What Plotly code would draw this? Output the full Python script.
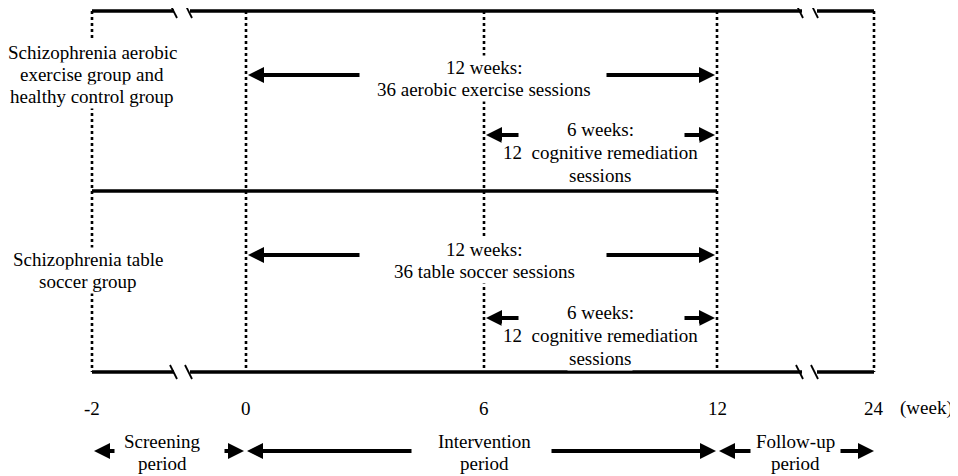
import plotly.graph_objects as go

# ---- data ----
weeks = [-2, 0, 6, 12, 24]
week_labels = ["-2", "0", "6", "12", "24"]
unit_label = "(week)"
groups = [["Schizophrenia aerobic", "exercise group and", "healthy control group"],
          ["Schizophrenia table", "soccer group"]]
long_blocks = [["12 weeks:", "36 aerobic exercise sessions"],
               ["12 weeks:", "36 table soccer sessions"]]
short_blocks = [["6 weeks:", "12  cognitive remediation", "sessions"],
                ["6 weeks:", "12  cognitive remediation", "sessions"]]
periods = [["Screening", "period"], ["Intervention", "period"], ["Follow-up", "period"]]

# display position of each week on the broken axis
wpos = dict(zip(weeks, [92, 246, 484, 717, 874]))
FONT = "Liberation Serif"
FS = 19
LH = 22

fig = go.Figure()
shapes = []
ann = []

def hline(x0, x1, y, w=3.6):
    shapes.append(dict(type="line", x0=x0, x1=x1, y0=y, y1=y, xref="x", yref="y",
                       line=dict(color="black", width=w)))

def seg(x0, y0, x1, y1, w=1.8):
    shapes.append(dict(type="line", x0=x0, x1=x1, y0=y0, y1=y1, xref="x", yref="y",
                       line=dict(color="black", width=w)))

def arrow(xh, xt, y, w=4):
    ann.append(dict(x=xh, y=y, ax=xt, ay=y, xref="x", yref="y", axref="x", ayref="y",
                    text="", showarrow=True, arrowhead=2, arrowsize=0.8, arrowwidth=w,
                    arrowcolor="black", standoff=0, startstandoff=0))

def text(x, y, t, bg=None):
    d = dict(x=x, y=y, xref="x", yref="y", text=t, showarrow=False,
             font=dict(family=FONT, size=FS, color="black"), align="center")
    if bg:
        d["bgcolor"] = bg
    ann.append(d)

def lines(x, y_first, ls, bg=None, lh=LH):
    for i, t in enumerate(ls):
        text(x, y_first + i * lh, t, bg)

x_m2, x0, x6, x12, x24 = (wpos[w] for w in weeks)
y_top, y_mid, y_bot = 11, 191, 372

# dotted verticals
for w in weeks:
    shapes.append(dict(type="line", x0=wpos[w], x1=wpos[w], y0=y_top, y1=y_bot, xref="x", yref="y",
                       line=dict(color="black", width=2.6, dash="dot"), layer="below"))

# horizontal lines with breaks
for y in (y_top, y_bot):
    hline(x_m2, 174, y)
    hline(190, 802, y)
    hline(817, x24, y)
    seg(170, y - 7, 177, y + 7)
    seg(185, y - 7, 192, y + 7)
    seg(796, y - 7, 803, y + 7)
    seg(811, y - 7, 818, y + 7)
hline(x_m2, x12, y_mid)

# group labels
lines(x_m2, 52, groups[0], bg="white")
lines(88, 259, groups[1], bg="white")

# block arrows & texts
for k, (ya, yt, ys, yst) in enumerate(((75, 67, 135, 129), (255, 249, 318, 312))):
    arrow(x0 + 2, 361, ya)
    arrow(x12 - 2, 605, ya)
    lines(x6, yt, long_blocks[k], bg="white")
    arrow(x6 + 2, 520, ys)
    arrow(x12 - 2, 683, ys)
    lines(600, yst, short_blocks[k], bg="white", lh=23)

# week tick labels
for w, lab in zip(weeks, week_labels):
    text(wpos[w], 408, lab)
text(926, 408, unit_label)

# period arrows and labels
yp = 451
arrow(x_m2 + 2, 116, yp)
arrow(x0 - 2, 223, yp)
arrow(x0 + 1, 413, yp)
arrow(x12 - 1, 550, yp)
arrow(x12 + 2, 752, yp)
arrow(x24, 839, yp)
lines(162, 441, periods[0])
lines(x6, 441, periods[1])
lines(795, 441, periods[2])

# page body has an 8px margin: shift the plotting frame so page pixels = data units
fig.update_layout(
    width=950, height=468, margin=dict(l=0, r=0, t=0, b=0),
    paper_bgcolor="white", plot_bgcolor="white",
    font=dict(family=FONT, size=FS, color="black"),
    xaxis=dict(range=[8, 958], visible=False, fixedrange=True),
    yaxis=dict(range=[476, 8], visible=False, fixedrange=True),
    shapes=shapes, annotations=ann, showlegend=False,
)
fig.write_html("out.html")
